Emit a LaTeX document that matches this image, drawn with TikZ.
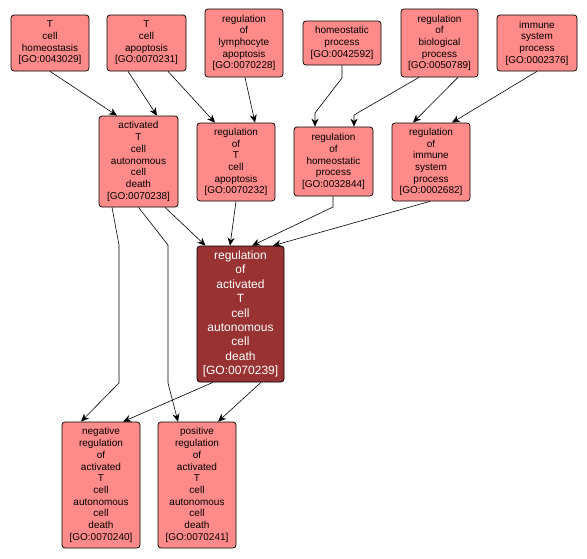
\documentclass[tikz,border=0pt]{standalone}
\usepackage{fontspec}
\setmainfont{Liberation Sans}
\usetikzlibrary{arrows.meta}
\definecolor{boxfill}{RGB}{255,138,138}
\definecolor{mainfill}{RGB}{153,50,50}
\tikzset{
  gobox/.style={draw=black, line width=0.7pt, fill=boxfill, rounded corners=3pt, inner sep=0pt, align=center,
    font=\fontsize{10}{11.7}\selectfont, text=black},
  mainbox/.style={gobox, fill=mainfill, text=white, font=\fontsize{12}{14.4}\selectfont},
  edge/.style={draw=black, line width=0.6pt, -{Stealth[length=8pt,width=7pt,inset=2.5pt]}}
}
\begin{document}
\begin{tikzpicture}[x=1pt,y=-1pt]
\useasboundingbox (0,0) rectangle (587,558);
\fill[white] (0,0) rectangle (587,558);
% top row
\node[gobox, minimum width=78pt, minimum height=56pt] (n1) at (50,43) {T\\cell\\homeostasis\\{[GO:0043029]}};
\node[gobox, minimum width=79pt, minimum height=56pt] (n2) at (146.5,43) {T\\cell\\apoptosis\\{[GO:0070231]}};
\node[gobox, minimum width=78pt, minimum height=68pt] (n3) at (244,43) {regulation\\of\\lymphocyte\\apoptosis\\{[GO:0070228]}};
\node[gobox, minimum width=78pt, minimum height=44pt] (n4) at (342,43) {homeostatic\\process\\{[GO:0042592]}};
\node[gobox, minimum width=77pt, minimum height=68pt] (n5) at (439.5,43) {regulation\\of\\biological\\process\\{[GO:0050789]}};
\node[gobox, minimum width=80pt, minimum height=56pt] (n6) at (537,43) {immune\\system\\process\\{[GO:0002376]}};
% second row
\node[gobox, minimum width=79pt, minimum height=91pt] (n7) at (138.5,161.5) {activated\\T\\cell\\autonomous\\cell\\death\\{[GO:0070238]}};
\node[gobox, minimum width=78pt, minimum height=78pt] (n8) at (236,162) {regulation\\of\\T\\cell\\apoptosis\\{[GO:0070232]}};
\node[gobox, minimum width=79pt, minimum height=69pt] (n9) at (333.5,161.5) {regulation\\of\\homeostatic\\process\\{[GO:0032844]}};
\node[gobox, minimum width=78pt, minimum height=78pt] (n10) at (431,162) {regulation\\of\\immune\\system\\process\\{[GO:0002682]}};
% main
\node[mainbox, minimum width=87pt, minimum height=136pt] (m) at (240.5,314) {regulation\\of\\activated\\T\\cell\\autonomous\\cell\\death\\{[GO:0070239]}};
% bottom
\node[gobox, minimum width=78pt, minimum height=126pt] (neg) at (101,485) {negative\\regulation\\of\\activated\\T\\cell\\autonomous\\cell\\death\\{[GO:0070240]}};
\node[gobox, minimum width=78pt, minimum height=126pt] (pos) at (197,485) {positive\\regulation\\of\\activated\\T\\cell\\autonomous\\cell\\death\\{[GO:0070241]}};
% bend coordinates
\coordinate (b4a) at (342,78);
\coordinate (b4b) at (315,113);
\coordinate (b5a) at (354,115);
\coordinate (b9a) at (333,207);
\coordinate (b7a) at (119,245);
\coordinate (b7b) at (119,383);
\coordinate (b7c) at (168,245);
\coordinate (b7d) at (168,383);
% edges
\draw[edge] (n1.south) -- ([xshift=-21.5pt]n7.north);
\draw[edge] ([xshift=-18.5pt]n2.south) -- ([xshift=18.5pt]n7.north);
\draw[edge] ([xshift=21.5pt]n2.south) -- ([xshift=-21pt]n8.north);
\draw[edge] ([xshift=1pt]n3.south) -- ([xshift=19pt]n8.north);
\draw[edge] (n4.south) -- (b4a) -- (b4b) -- ([xshift=-18.5pt]n9.north);
\draw[edge] ([xshift=-20.5pt]n5.south) -- (b5a) -- ([xshift=20.5pt]n9.north);
\draw[edge] ([xshift=18.5pt]n5.south) -- ([xshift=-18pt]n10.north);
\draw[edge] (n6.south) -- ([xshift=21pt]n10.north);
\draw[edge] ([xshift=26.5pt]n7.south) -- ([xshift=-35pt]m.north);
\draw[edge] (n8.south) -- ([xshift=-10.5pt]m.north);
\draw[edge] ([xshift=-0.5pt]n9.south) -- (b9a) -- ([xshift=11.5pt]m.north);
\draw[edge] ([xshift=-1pt]n10.south) -- ([xshift=32.5pt]m.north);
\draw[edge] ([xshift=-26.5pt]n7.south) -- (b7a) -- (b7b) -- ([xshift=-20pt]neg.north);
\draw[edge] (n7.south) -- (b7c) -- (b7d) -- ([xshift=-19pt]pos.north);
\draw[edge] ([xshift=-27.5pt]m.south) -- ([xshift=22pt]neg.north);
\draw[edge] ([xshift=20.5pt]m.south) -- ([xshift=21pt]pos.north);
\end{tikzpicture}
\end{document}
